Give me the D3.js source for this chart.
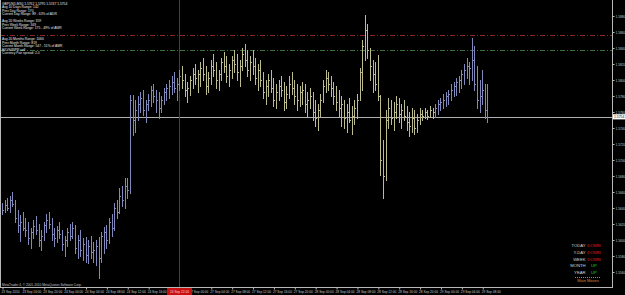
<!DOCTYPE html>
<html>
<head>
<meta charset="utf-8">
<title>GBPUSD,M30</title>
<style type="text/css">
    body{ margin:0; background:#000; }
    svg{ display:block; font-family:"Liberation Sans", Arial, sans-serif; }
</style>
</head>
<body>
<svg id="chart" width="625" height="295"></svg>

<script src="https://cdn.jsdelivr.net/npm/d3@7/dist/d3.min.js"></script>
<script type="text/javascript">

var symbol = 'GBPUSD,M30';

// M30 bars, 23 Sep 2010 12:00 -> 29 Sep 2010 09:00
var open = [
1.5640,1.5637,1.5644,1.5640,1.5650,1.5645,1.5627,1.5619,1.5622,1.5615,
1.5612,1.5602,1.5610,1.5617,1.5612,1.5600,1.5605,1.5619,1.5625,1.5620,
1.5607,1.5602,1.5612,1.5607,1.5595,1.5600,1.5610,1.5605,1.5615,1.5590,
1.5600,1.5587,1.5595,1.5581,1.5592,1.5585,1.5587,1.5592,1.5577,1.5605,
1.5610,1.5600,1.5622,1.5615,1.5640,1.5635,1.5655,1.5650,1.5667,1.5662,
1.5775,1.5750,1.5762,1.5770,1.5777,1.5762,1.5770,1.5775,1.5787,1.5780,
1.5775,1.5765,1.5775,1.5785,1.5790,1.5792,1.5797,1.5790,1.5795,1.5805,
1.5800,1.5787,1.5790,1.5800,1.5807,1.5802,1.5807,1.5815,1.5807,1.5792,
1.5802,1.5817,1.5812,1.5800,1.5807,1.5822,1.5817,1.5805,1.5812,1.5825,
1.5820,1.5810,1.5817,1.5832,1.5825,1.5812,1.5822,1.5817,1.5802,1.5812,
1.5800,1.5785,1.5792,1.5800,1.5790,1.5775,1.5785,1.5792,1.5787,1.5772,
1.5782,1.5795,1.5790,1.5780,1.5775,1.5785,1.5787,1.5770,1.5775,1.5780,
1.5760,1.5752,1.5762,1.5775,1.5792,1.5802,1.5795,1.5790,1.5780,1.5772,
1.5765,1.5770,1.5752,1.5760,1.5750,1.5755,1.5765,1.5775,1.5810,1.5842,
1.5862,1.5837,1.5817,1.5807,1.5795,1.5780,1.5700,1.5680,1.5750,1.5765,
1.5752,1.5760,1.5770,1.5757,1.5762,1.5755,1.5747,1.5742,1.5752,1.5740,
1.5750,1.5757,1.5755,1.5760,1.5755,1.5762,1.5760,1.5765,1.5770,1.5772,
1.5775,1.5780,1.5782,1.5787,1.5792,1.5797,1.5800,1.5807,1.5812,1.5817,
1.5815,1.5825,1.5795,1.5775,1.5780,1.5787,1.5762
];

var high = [
1.5646,1.5650,1.5652,1.5655,1.5660,1.5650,1.5637,1.5631,1.5635,1.5627,
1.5622,1.5615,1.5625,1.5630,1.5620,1.5612,1.5622,1.5632,1.5635,1.5627,
1.5615,1.5617,1.5622,1.5612,1.5605,1.5615,1.5620,1.5622,1.5619,1.5606,
1.5612,1.5602,1.5604,1.5600,1.5605,1.5597,1.5600,1.5604,1.5610,1.5616,
1.5619,1.5627,1.5632,1.5646,1.5650,1.5665,1.5667,1.5677,1.5677,1.5781,
1.5781,1.5775,1.5780,1.5785,1.5787,1.5775,1.5782,1.5792,1.5795,1.5787,
1.5785,1.5780,1.5790,1.5795,1.5800,1.5805,1.5810,1.5802,1.5812,1.5817,
1.5807,1.5797,1.5805,1.5815,1.5820,1.5812,1.5822,1.5827,1.5817,1.5810,
1.5825,1.5832,1.5822,1.5812,1.5827,1.5835,1.5830,1.5820,1.5830,1.5837,
1.5832,1.5825,1.5840,1.5845,1.5837,1.5830,1.5837,1.5827,1.5820,1.5825,
1.5810,1.5800,1.5807,1.5812,1.5802,1.5795,1.5800,1.5805,1.5797,1.5792,
1.5805,1.5810,1.5800,1.5795,1.5792,1.5797,1.5795,1.5785,1.5790,1.5785,
1.5775,1.5770,1.5782,1.5800,1.5812,1.5810,1.5805,1.5797,1.5792,1.5787,
1.5780,1.5775,1.5770,1.5777,1.5767,1.5775,1.5782,1.5815,1.5850,1.5881,
1.5870,1.5840,1.5825,1.5822,1.5831,1.5781,1.5725,1.5762,1.5777,1.5775,
1.5772,1.5780,1.5777,1.5770,1.5775,1.5767,1.5760,1.5765,1.5762,1.5757,
1.5765,1.5762,1.5765,1.5762,1.5767,1.5765,1.5770,1.5775,1.5777,1.5782,
1.5785,1.5787,1.5795,1.5797,1.5802,1.5805,1.5812,1.5820,1.5827,1.5822,
1.5852,1.5842,1.5817,1.5800,1.5812,1.5795,1.5795
];

var low = [
1.5632,1.5635,1.5637,1.5635,1.5642,1.5622,1.5610,1.5599,1.5612,1.5605,
1.5595,1.5590,1.5602,1.5607,1.5592,1.5587,1.5600,1.5610,1.5615,1.5600,
1.5592,1.5597,1.5602,1.5587,1.5580,1.5592,1.5600,1.5602,1.5584,1.5577,
1.5580,1.5575,1.5572,1.5571,1.5577,1.5572,1.5569,1.5552,1.5572,1.5584,
1.5590,1.5596,1.5605,1.5612,1.5627,1.5634,1.5642,1.5640,1.5652,1.5659,
1.5731,1.5735,1.5750,1.5760,1.5756,1.5747,1.5762,1.5767,1.5772,1.5760,
1.5752,1.5760,1.5770,1.5775,1.5777,1.5782,1.5785,1.5775,1.5787,1.5790,
1.5780,1.5772,1.5781,1.5790,1.5795,1.5785,1.5792,1.5800,1.5782,1.5785,
1.5795,1.5805,1.5790,1.5787,1.5800,1.5810,1.5797,1.5792,1.5802,1.5810,
1.5800,1.5792,1.5812,1.5817,1.5805,1.5800,1.5807,1.5795,1.5787,1.5792,
1.5777,1.5770,1.5780,1.5785,1.5767,1.5765,1.5775,1.5780,1.5762,1.5765,
1.5777,1.5782,1.5770,1.5762,1.5767,1.5770,1.5760,1.5755,1.5765,1.5750,
1.5742,1.5737,1.5755,1.5772,1.5785,1.5787,1.5780,1.5770,1.5762,1.5755,
1.5742,1.5740,1.5735,1.5747,1.5732,1.5745,1.5752,1.5775,1.5787,1.5825,
1.5827,1.5800,1.5785,1.5787,1.5775,1.5681,1.5652,1.5675,1.5740,1.5745,
1.5737,1.5752,1.5747,1.5740,1.5750,1.5737,1.5730,1.5735,1.5732,1.5735,
1.5745,1.5750,1.5752,1.5751,1.5754,1.5752,1.5754,1.5757,1.5762,1.5765,
1.5767,1.5770,1.5775,1.5780,1.5781,1.5785,1.5790,1.5795,1.5802,1.5795,
1.5800,1.5787,1.5765,1.5760,1.5770,1.5752,1.5747
];

var close = [
1.5637,1.5644,1.5640,1.5650,1.5645,1.5627,1.5619,1.5622,1.5615,1.5612,
1.5602,1.5610,1.5617,1.5612,1.5600,1.5605,1.5619,1.5625,1.5620,1.5607,
1.5602,1.5612,1.5607,1.5595,1.5600,1.5610,1.5605,1.5615,1.5590,1.5600,
1.5587,1.5595,1.5581,1.5592,1.5585,1.5587,1.5592,1.5577,1.5605,1.5610,
1.5600,1.5622,1.5615,1.5640,1.5635,1.5655,1.5650,1.5667,1.5662,1.5775,
1.5750,1.5762,1.5770,1.5777,1.5762,1.5770,1.5775,1.5787,1.5780,1.5775,
1.5765,1.5775,1.5785,1.5790,1.5792,1.5797,1.5790,1.5795,1.5805,1.5800,
1.5787,1.5790,1.5800,1.5807,1.5802,1.5807,1.5815,1.5807,1.5792,1.5802,
1.5817,1.5812,1.5800,1.5807,1.5822,1.5817,1.5805,1.5812,1.5825,1.5820,
1.5810,1.5817,1.5832,1.5825,1.5812,1.5822,1.5817,1.5802,1.5812,1.5800,
1.5785,1.5792,1.5800,1.5790,1.5775,1.5785,1.5792,1.5787,1.5772,1.5782,
1.5795,1.5790,1.5780,1.5775,1.5785,1.5787,1.5770,1.5775,1.5780,1.5760,
1.5752,1.5762,1.5775,1.5792,1.5802,1.5795,1.5790,1.5780,1.5772,1.5765,
1.5770,1.5752,1.5760,1.5750,1.5755,1.5765,1.5775,1.5810,1.5842,1.5862,
1.5837,1.5817,1.5807,1.5795,1.5780,1.5700,1.5680,1.5750,1.5765,1.5752,
1.5760,1.5770,1.5757,1.5762,1.5755,1.5747,1.5742,1.5752,1.5740,1.5750,
1.5757,1.5755,1.5760,1.5755,1.5762,1.5760,1.5765,1.5770,1.5772,1.5775,
1.5780,1.5782,1.5787,1.5792,1.5797,1.5800,1.5807,1.5812,1.5817,1.5815,
1.5825,1.5795,1.5775,1.5780,1.5787,1.5762,1.5754
];

// bars drawn in the second colour (indicator state)
var khakiFrom = 69, khakiTo = 165;

var priceTicks = [1.5560,1.5580,1.5600,1.5620,1.5640,1.5660,1.5680,1.5700,1.5720,
                  1.5740,1.5760,1.5780,1.5800,1.5820,1.5840,1.5860,1.5880];

var barsPerLabel = 8;
var timeLabels = ['23 Sep 2010','23 Sep 16:00','23 Sep 20:00','24 Sep 00:00','24 Sep 04:00',
    '24 Sep 08:00','24 Sep 12:00','24 Sep 16:00','24 Sep 20:00','27 Sep 00:00','27 Sep 04:00',
    '27 Sep 08:00','27 Sep 12:00','27 Sep 16:00','27 Sep 20:00','28 Sep 00:00','28 Sep 04:00',
    '28 Sep 08:00','28 Sep 12:00','28 Sep 16:00','28 Sep 20:00','29 Sep 00:00','29 Sep 04:00',
    '29 Sep 08:00'];

// vertical marker line and its time
var markerBar = 68, markerLabel = '24 Sep 22:00';

// horizontal levels
var redLevel = 1.5856, greenLevel = 1.5838;

var infoLines = ['Avg 10 Days Range: 142','Prev Day Range: 170','Current Day Range: 89 - 63% of ADR','',
    'Avg 20 Weeks Range: 359','Prev Week Range: 349','Current Week Range: 175 - 49% of AWR','','',
    'Avg 20 Months Range: 1066','Prev Month Range: 819','Current Month Range: 547 - 51% of AMR',
    'B/O/S/P/PR sell','Currency Pair spread: 2.0'];

var moveNames  = ['TODAY','Y-DAY','WEEK','MONTH','YEAR'];
var moveStates = ['DOWN','DOWN','DOWN','UP','UP'];


var W = 625, H = 295,
    plotRight = 612, plotBottom = 287,
    visibleBars = 234;

var blue = '#8088bc', khaki = '#bcbc8e', grid = '#b8b8b8';

var svg = d3.select('#chart');
svg.append('rect').attr('width', W).attr('height', H).attr('fill', '#000');

var x = d3.scaleLinear().domain([0, visibleBars]).range([2, 2 + visibleBars * 2.61]);
var y = d3.scaleLinear().domain([1.59 - plotBottom / 8000, 1.59]).range([plotBottom, 0]);

function px(i){ return Math.round(x(i)) + 0.5 }
function py(p){ return Math.round(y(p)) + 0.5 }
function colour(i){ return (i >= khakiFrom && i <= khakiTo) ? khaki : blue }

// level lines
svg.append('line')
    .attr('x1', 0).attr('x2', plotRight).attr('y1', py(redLevel)).attr('y2', py(redLevel))
    .attr('stroke', '#8e2626').attr('stroke-dasharray', '5,2,1,2').attr('shape-rendering', 'crispEdges');
svg.append('line')
    .attr('x1', 0).attr('x2', plotRight).attr('y1', py(greenLevel)).attr('y2', py(greenLevel))
    .attr('stroke', '#3a703a').attr('stroke-dasharray', '5,2,1,2').attr('shape-rendering', 'crispEdges');

// bid line
var last = close.length - 1;
svg.append('line')
    .attr('x1', 0).attr('x2', plotRight).attr('y1', py(close[last])).attr('y2', py(close[last]))
    .attr('stroke', '#b0b0b0').attr('shape-rendering', 'crispEdges');

// marker line
svg.append('line')
    .attr('x1', px(markerBar)).attr('x2', px(markerBar)).attr('y1', 0).attr('y2', plotBottom)
    .attr('stroke', '#b01212').attr('shape-rendering', 'crispEdges');

// bars
var bars = svg.append('g').attr('class', 'bars')
    .selectAll('g').data(d3.range(close.length)).join('g')
    .attr('stroke', colour).attr('shape-rendering', 'crispEdges');

bars.append('line')
    .attr('x1', px).attr('x2', px)
    .attr('y1', function(i){ return Math.round(y(high[i])) })
    .attr('y2', function(i){ return Math.round(y(low[i])) + 1 });
bars.append('line')
    .attr('x1', function(i){ return px(i) - 1 }).attr('x2', px)
    .attr('y1', function(i){ return py(open[i]) }).attr('y2', function(i){ return py(open[i]) });
bars.append('line')
    .attr('x1', px).attr('x2', function(i){ return px(i) + 1 })
    .attr('y1', function(i){ return py(close[i]) }).attr('y2', function(i){ return py(close[i]) });

// frame
svg.append('path')
    .attr('d', 'M0.5,0V' + (plotBottom + 0.5) + 'H' + (plotRight + 0.5) + 'V0')
    .attr('fill', 'none').attr('stroke', grid).attr('shape-rendering', 'crispEdges');

// price axis
var yAxis = svg.append('g')
    .attr('transform', 'translate(' + (plotRight + 0.5) + ',0)')
    .call(d3.axisRight(y).tickValues(priceTicks).tickSize(2).tickPadding(1)
        .tickFormat(d3.format('.4f')));
yAxis.select('.domain').remove();
yAxis.selectAll('line').attr('stroke', grid);
yAxis.selectAll('text').attr('fill', '#c8c8c8').attr('font-size', 3.2)
    .attr('font-family', '"Liberation Sans", Arial, sans-serif');

// current price tag
var tag = svg.append('g').attr('transform', 'translate(613,' + y(close[last]) + ')');
tag.append('rect').attr('x', 0).attr('y', -2.6).attr('width', 12).attr('height', 5.2).attr('fill', '#fff');
tag.append('text').attr('x', 1).attr('y', 1.2).attr('font-size', 3.4).attr('fill', '#000')
    .text(d3.format('.4f')(close[last]));

// time axis
var labelBars = timeLabels.map(function(d, k){ return k * barsPerLabel });
var xAxis = svg.append('g')
    .attr('transform', 'translate(0,' + (plotBottom + 0.5) + ')')
    .call(d3.axisBottom(x).tickValues(labelBars).tickSize(2).tickPadding(1)
        .tickFormat(function(d, k){ return timeLabels[k] }));
xAxis.select('.domain').remove();
xAxis.selectAll('line').attr('stroke', grid).attr('transform', 'translate(0.5,0)');
xAxis.selectAll('text').attr('fill', '#c8c8c8').attr('font-size', 3.2).attr('text-anchor', 'start')
    .attr('dx', -1).attr('font-family', '"Liberation Sans", Arial, sans-serif');

// marker time label
var mk = svg.append('g').attr('transform', 'translate(' + px(markerBar) + ',' + (plotBottom + 1) + ')');
mk.append('rect').attr('x', -12.5).attr('y', 0).attr('width', 25).attr('height', 7).attr('fill', '#c81010');
mk.append('text').attr('x', 0).attr('y', 4.8).attr('text-anchor', 'middle')
    .attr('font-size', 3.2).attr('fill', '#ffd0d0').text(markerLabel);

// info block, top left
var info = [symbol + ' ' + [open[last], high[last], low[last], close[last]].map(d3.format('.4f')).join(' ')]
    .concat(infoLines);
svg.append('g').selectAll('text').data(info).join('text')
    .attr('x', 2).attr('y', function(d, k){ return 4.6 + k * 3.55 })
    .attr('font-size', 3.3).attr('fill', '#e8e8e8')
    .text(function(d){ return d });

// copyright
svg.append('text').attr('x', 2).attr('y', 286).attr('font-size', 3.2).attr('fill', '#c8c8c8')
    .text('MetaTrader 4, \u00a9 2001-2010 MetaQuotes Software Corp.');

// main moves box, bottom right
var mm = svg.append('g').attr('font-size', 4.2);
mm.selectAll('text.name').data(moveNames).join('text')
    .attr('class', 'name')
    .attr('x', 585.5).attr('y', function(d, k){ return 247.3 + k * 6.7 })
    .attr('text-anchor', 'end').attr('fill', '#d8d8d8').text(function(d){ return d });
mm.selectAll('text.state').data(moveStates).join('text')
    .attr('class', 'state')
    .attr('x', 594).attr('y', function(d, k){ return 247.3 + k * 6.7 })
    .attr('text-anchor', 'middle')
    .attr('fill', function(d){ return d == 'UP' ? '#22c022' : '#e02020' })
    .text(function(d){ return d });
mm.append('line').attr('x1', 575).attr('x2', 601).attr('y1', 277.5).attr('y2', 277.5)
    .attr('stroke', '#c87830').attr('stroke-dasharray', '1,1');
mm.append('text').attr('x', 588).attr('y', 282.3).attr('text-anchor', 'middle')
    .attr('fill', '#d88a3a').attr('font-size', 4).text('Main Moves');

</script>
</body>
</html>
